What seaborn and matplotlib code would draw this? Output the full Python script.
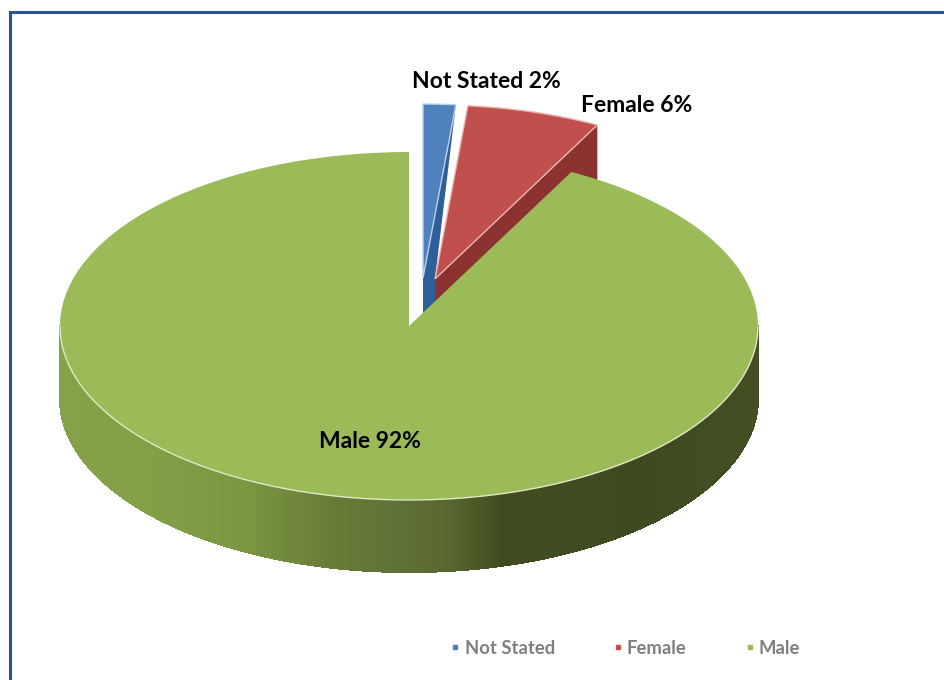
import numpy as np
import matplotlib
matplotlib.use("Agg")
import matplotlib.pyplot as plt
from matplotlib.collections import PolyCollection
from matplotlib.colors import to_rgb
from matplotlib.lines import Line2D
from matplotlib.patches import Polygon
import seaborn as sns

categories = ["Not Stated", "Female", "Male"]
shares = [1.5, 6.2, 92.3]
share_labels = ["2%", "6%", "92%"]

W, H = 944, 680
CX, CY, RX, RY, DEPTH = 409, 326, 349, 174, 72
OFFSETS = {"Not Stated": (14, 48), "Female": (26, 47), "Male": (0, 0)}
GRAD_X = [61, 150, 250, 330, 400, 450, 500, 650, 758]
GRAD_C = ["#86a248", "#84a046", "#7b9541", "#687c38", "#5f7136", "#586830", "#404c20", "#3f4a20", "#434f23"]

sns.set_theme(style="white")
FONT = "Lato"
plt.rcParams["font.family"] = [FONT, "DejaVu Sans"]
palette = sns.color_palette(["#4f81bd", "#c0504d", "#9bbb59"])
dark = sns.color_palette(["#2f5f9a", "#8c3230", "#6b8238"])
edges = ["#bcd2ea", "#ecb8b0", "#9bbb59"]

fig = plt.figure(figsize=(W / 100, H / 100), dpi=100, facecolor="white")

# page border (top and left only)
bg = fig.add_axes([9.5 / W, 0, 1 - 9.5 / W, 1 - 11.5 / H], zorder=0)
bg.set_xticks([]); bg.set_yticks([])
sns.despine(ax=bg, right=True, bottom=True)
for s in ("top", "left"):
    bg.spines[s].set_visible(True)
    bg.spines[s].set_color("#2e4f9e")
    bg.spines[s].set_linewidth(2.2)

ax = fig.add_axes([0, 0, 1, 1], zorder=1)
ax.patch.set_alpha(0)
wedges, _ = ax.pie(shares, colors=palette, startangle=90, counterclock=False,
                   wedgeprops=dict(linewidth=0))
ax.set_aspect("auto")
ax.set_xlim(-CX / RX, (W - CX) / RX)
ax.set_ylim(-(H - CY) / RY, CY / RY)

D = DEPTH / RY
unit_off = {k: (v[0] / RX, v[1] / RY) for k, v in OFFSETS.items()}
for w, name, edge in zip(wedges, categories, edges):
    w.set_center(unit_off[name])
    w.set_edgecolor(edge)
    w.set_linewidth(1.0 if name != "Male" else 0)
    w.set_zorder(5 if name == "Male" else 3)

cum = np.cumsum([0] + shares)
def end_point(idx, frac_end):
    ang = np.deg2rad(90 - 3.6 * cum[idx + frac_end])
    ox, oy = unit_off[categories[idx]]
    return ox + np.cos(ang), oy + np.sin(ang)

# cut faces of the exploded slices (partly hidden by the Male top)
blue_tip = unit_off["Not Stated"]
red_tip = unit_off["Female"]
ax.add_patch(Polygon([end_point(0, 1), red_tip, (red_tip[0], red_tip[1] - D),
                      (blue_tip[0], blue_tip[1] - D), blue_tip],
                     closed=True, fc=dark[0], ec="none", zorder=1))
ax.add_patch(Polygon([end_point(1, 1), red_tip, (red_tip[0], red_tip[1] - D),
                      (end_point(1, 1)[0], end_point(1, 1)[1] - D)],
                     closed=True, fc=dark[1], ec="none", zorder=2))

# extruded front wall of the Male slice
theta = np.deg2rad(np.linspace(-180, 0, 721))
xs, ys = np.cos(theta), np.sin(theta)
grad = np.array([to_rgb(c) for c in GRAD_C])
polys, cols = [], []
for i in range(len(theta) - 1):
    polys.append([(xs[i], ys[i]), (xs[i + 1], ys[i + 1]),
                  (xs[i + 1], ys[i + 1] - D), (xs[i], ys[i] - D)])
    px = CX + RX * (xs[i] + xs[i + 1]) / 2
    cols.append([np.interp(px, GRAD_X, grad[:, k]) for k in range(3)])
ax.add_collection(PolyCollection(polys, facecolors=cols, edgecolors=cols,
                                 linewidths=0.8, antialiaseds=False, zorder=4))
ax.plot(xs, ys, color="#dfe9c6", lw=1.0, zorder=6, solid_capstyle="round")

def put(px, py, text, **kw):
    fig.text(px / W, 1 - py / H, text, zorder=10, **kw)

lab = dict(fontsize=16.5, fontweight="bold", color="black", family=[FONT, "DejaVu Sans"],
           ha="left", va="center")
put(412, 82, f"{categories[0]} {share_labels[0]}", **lab)
put(581, 106, f"{categories[1]} {share_labels[1]}", **lab)
put(319, 442, f"{categories[2]} {share_labels[2]}", **lab)

handles = [Line2D([], [], ls="", marker="s", ms=3.2, mfc=c, mec=c) for c in palette]
leg = fig.legend(handles, categories, ncol=3, loc="center", bbox_to_anchor=(625.5 / W, 1 - 648 / H),
                 frameon=False, handlelength=0.5, handletextpad=0.25, columnspacing=3.15,
                 prop=dict(family=[FONT, "DejaVu Sans"], weight="bold", size=13.3))
for t in leg.get_texts():
    t.set_color("#7f7f7f")

fig.savefig("out.png", dpi=100)
